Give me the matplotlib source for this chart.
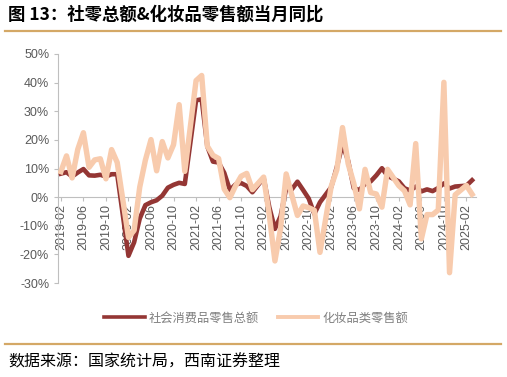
import matplotlib
matplotlib.use("Agg")
import matplotlib.pyplot as plt
from matplotlib.lines import Line2D

plt.rcParams['font.family'] = ['Liberation Sans', 'Noto Sans CJK SC', 'DejaVu Sans']

# months (January omitted: Jan-Feb combined)
months = ["2019-02","2019-03","2019-04","2019-05","2019-06","2019-07","2019-08","2019-09","2019-10","2019-11","2019-12",
          "2020-02","2020-03","2020-04","2020-05","2020-06","2020-07","2020-08","2020-09","2020-10","2020-11","2020-12",
          "2021-02","2021-03","2021-04","2021-05","2021-06","2021-07","2021-08","2021-09","2021-10","2021-11","2021-12",
          "2022-02","2022-03","2022-04","2022-05","2022-06","2022-07","2022-08","2022-09","2022-10","2022-11","2022-12",
          "2023-02","2023-03","2023-04","2023-05","2023-06","2023-07","2023-08","2023-09","2023-10","2023-11","2023-12",
          "2024-02","2024-03","2024-04","2024-05","2024-06","2024-07","2024-08","2024-09","2024-10","2024-11","2024-12",
          "2025-02","2025-03"]

retail_total = [8.2, 8.7, 7.2, 8.6, 9.8, 7.6, 7.5, 7.8, 7.2, 8.0, 8.0,
                -20.5, -15.8, -7.5, -2.8, -1.8, -1.1, 0.5, 3.3, 4.3, 5.0, 4.6,
                33.8, 34.2, 17.7, 12.4, 12.1, 8.5, 2.5, 4.4, 4.9, 3.9, 1.7,
                6.7, -3.5, -11.1, -6.7, 3.1, 2.7, 5.4, 2.5, -0.5, -5.9, -1.8,
                3.5, 10.6, 18.4, 12.7, 3.1, 2.5, 4.6, 5.5, 7.6, 10.1, 7.4,
                5.5, 3.1, 2.3, 3.7, 2.0, 2.7, 2.1, 3.2, 4.8, 3.0, 3.7,
                4.0, 5.9]

cosmetics = [8.9, 14.4, 6.7, 16.7, 22.5, 10.4, 13.0, 13.4, 6.4, 16.6, 12.1,
             -14.1, -11.6, 3.5, 12.9, 20.1, 9.2, 19.4, 13.7, 18.3, 32.3, 9.0,
             40.7, 42.5, 17.8, 14.6, 13.5, 2.8, -0.2, 3.9, 7.3, 8.3, 2.6,
             7.0, -6.3, -22.3, -11.0, 8.1, 0.7, -6.4, -3.1, -3.7, -4.6, -19.3,
             3.8, 9.6, 24.3, 11.7, 4.8, -4.1, 9.7, 1.6, 1.1, -3.5, 9.7,
             4.0, 2.2, -2.7, 18.7, -14.6, -6.1, -6.1, -4.5, 40.1, -26.4, 0.8,
             4.1, 1.0]

tick_labels = ["2019-02","2019-06","2019-10","2020-02","2020-06","2020-10","2021-02","2021-06","2021-10",
               "2022-02","2022-06","2022-10","2023-02","2023-06","2023-10","2024-02","2024-06","2024-10","2025-02"]

series_names = ["社会消费品零售总额", "化妆品类零售额"]

def midx(s):
    y, m = s.split("-")
    return (int(y) - 2019) * 12 + int(m) - 2

x = [midx(m) for m in months]
tx = [midx(t) for t in tick_labels]

dark = "#943634"
pale = "#F8CBAD"
gold = "#D4A866"
gray = "#595959"

fig = plt.figure(figsize=(5.07, 3.77), dpi=100)
ax = fig.add_axes([57.5/507, 1-283/377, (476-57.5)/507, (283-54)/377])

for s in ["top", "right"]:
    ax.spines[s].set_visible(False)
ax.spines["bottom"].set_position(("data", 0))
ax.spines["bottom"].set_color("#BFBFBF")
ax.spines["left"].set_color("#BFBFBF")

ax.plot(x, retail_total, color=dark, lw=3.3, solid_joinstyle='round', zorder=3)
ax.plot(x, cosmetics, color=pale, lw=3.9, solid_joinstyle='round', zorder=4)

ax.set_xlim(-0.6, midx("2025-03") + 0.7)
ax.set_ylim(-30, 50)
ax.set_yticks(range(-30, 51, 10))
ax.set_yticklabels([f"{v}%" for v in range(-30, 51, 10)], fontsize=9, color=gray)
ax.set_xticks(tx)
ax.set_xticklabels(tick_labels, fontsize=9, color=gray)

ax.tick_params(axis="both", colors="#BFBFBF", length=3, width=0.8, labelcolor=gray)
ax.tick_params(axis="x", pad=2, labelrotation=90)
ax.tick_params(axis="y", pad=3)

handles = [Line2D([0], [0], color=dark, lw=2.6), Line2D([0], [0], color=pale, lw=2.8)]
fig.legend(handles, series_names, loc="center", bbox_to_anchor=(256/507, 1-318/377), ncol=2,
           frameon=False, handlelength=3.3, handletextpad=0.3, columnspacing=1.6,
           prop={"family": ["Noto Sans CJK SC"], "size": 8.8}, labelcolor="#7F7F7F")

fig.text(8/507, 1-15/377, "图 13：社零总额&化妆品零售额当月同比", fontsize=12.5, fontweight="bold",
         family=["Noto Sans CJK SC", "DejaVu Sans"], color="#000000", ha="left", va="center")
fig.text(8/507, 1-362/377, "数据来源：国家统计局，西南证券整理", fontsize=11.5,
         family=["Noto Sans CJK SC", "DejaVu Sans"], color="#000000", ha="left", va="center")

fig.add_artist(Line2D([5/507, 501/507], [1-31/377, 1-31/377], color=gold, lw=1.6, transform=fig.transFigure))
fig.add_artist(Line2D([5/507, 501/507], [1-344/377, 1-344/377], color=gold, lw=1.6, transform=fig.transFigure))

fig.savefig("out.png", dpi=100)
